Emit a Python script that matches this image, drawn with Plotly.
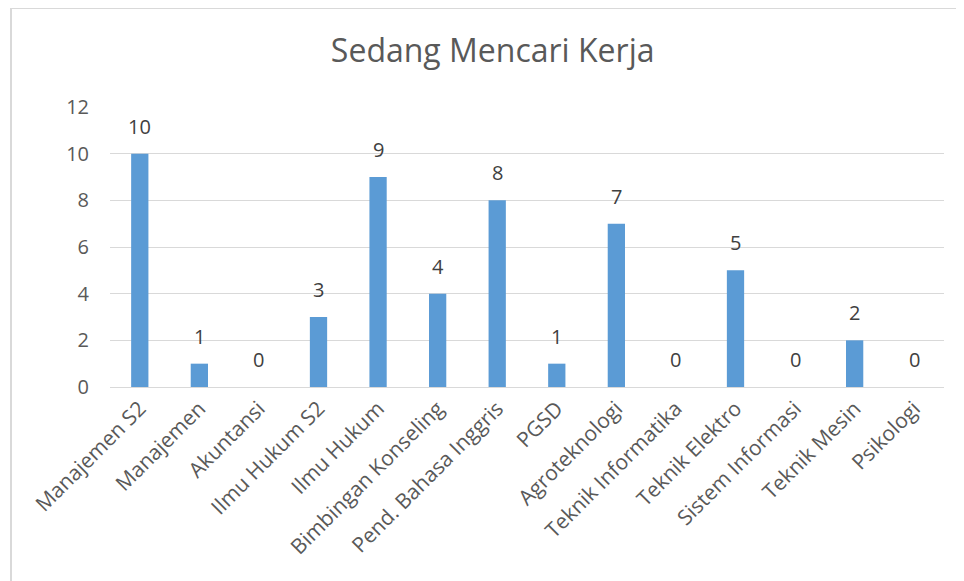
import plotly.graph_objects as go

categories = ["Manajemen S2", "Manajemen", "Akuntansi", "Ilmu Hukum S2", "Ilmu Hukum",
              "Bimbingan Konseling", "Pend. Bahasa Inggris", "PGSD", "Agroteknologi",
              "Teknik Informatika", "Teknik Elektro", "Sistem Informasi", "Teknik Mesin", "Psikologi"]
values = [10, 1, 0, 3, 9, 4, 8, 1, 7, 0, 5, 0, 2, 0]
y_ticks = [0, 2, 4, 6, 8, 10, 12]

FONT = "Open Sans"
GREY = "#595959"

fig = go.Figure(go.Bar(
    x=categories, y=values,
    marker=dict(color="#5b9bd5", line=dict(width=0)),
    cliponaxis=False,
))

annotations = [dict(x=c, y=v, xref="x", yref="y", text=str(v), showarrow=False,
                    yanchor="bottom", yshift=12,
                    font=dict(family=FONT, size=20, color="#404040"))
               for c, v in zip(categories, values)]

fig.update_layout(
    width=956, height=573,
    margin=dict(l=102, r=20, t=99, b=194),
    paper_bgcolor="white", plot_bgcolor="white",
    title=dict(text="Sedang Mencari Kerja", x=0.507, xanchor="center", y=0.925, yanchor="middle",
               font=dict(family=FONT, size=32, color=GREY)),
    bargap=0.71,
    showlegend=False,
    font=dict(family=FONT, color=GREY),
    annotations=annotations,
    shapes=[dict(type="rect", xref="paper", yref="paper", x0=-0.1187, x1=2, y0=-2, y1=1.3536,
                 line=dict(color="#d9d9d9", width=2), fillcolor="rgba(0,0,0,0)", layer="below")],
)
fig.update_xaxes(tickangle=-45, tickfont=dict(family=FONT, size=21, color=GREY),
                 showline=True, linecolor="#d9d9d9", linewidth=1, ticks="", showgrid=False)
fig.update_yaxes(range=[0, 12], tickvals=y_ticks, tickfont=dict(family=FONT, size=20, color=GREY),
                 showgrid=True, gridcolor="#d9d9d9", gridwidth=1, zeroline=False, ticks="",
                 ticklabelstandoff=20)

fig.write_html("out.html")
